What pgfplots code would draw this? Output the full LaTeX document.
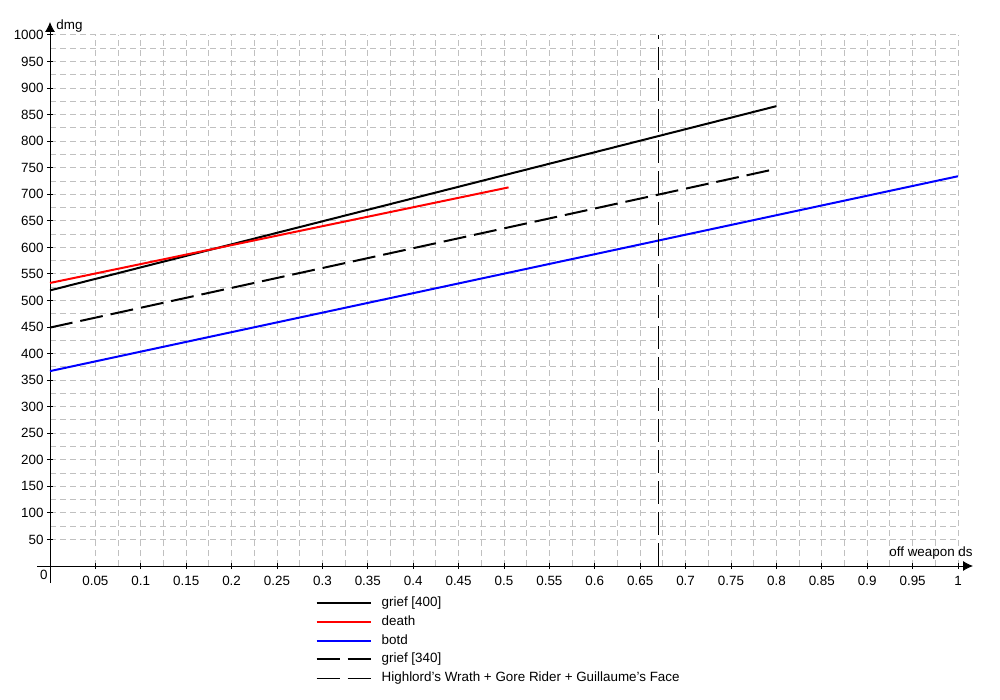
\documentclass[border=0pt]{standalone}
\usepackage{fontspec}
\setmainfont{Liberation Sans}
\usepackage{pgfplots}
\pgfplotsset{compat=1.18}
\usetikzlibrary{arrows.meta}

\definecolor{gridgray}{RGB}{192,192,192}
\definecolor{pureRed}{RGB}{255,0,0}
\definecolor{pureBlue}{RGB}{0,0,255}

\begin{document}
\begin{tikzpicture}
\useasboundingbox (-25pt,-67pt) rectangle (475pt,283pt);
\begin{axis}[
  at={(0,0)}, anchor=south west,
  width=454pt, height=265.5pt, scale only axis,
  xmin=0, xmax=1, ymin=0, ymax=1000,
  axis lines=middle,
  x axis line style={-{Latex[length=5pt,width=5pt]}, shorten >=-7.5pt, shorten <=-6.5pt},
  y axis line style={-{Latex[length=5pt,width=5pt]}, shorten >=-6.5pt, shorten <=-8.5pt},
  font=\fontsize{6.7pt}{8pt}\selectfont,
  /pgf/number format/assume math mode=true,
  /pgf/number format/1000 sep={},
  xtick={0.05,0.1,...,1.001},
  ytick={50,100,...,1000},
  xticklabels={0.05,0.1,0.15,0.2,0.25,0.3,0.35,0.4,0.45,0.5,0.55,0.6,0.65,0.7,0.75,0.8,0.85,0.9,0.95,1},
  minor x tick num=1, minor y tick num=1,
  major tick length=3pt, minor tick length=0pt, tick align=center,
  tick style={black, line width=0.5pt},
  grid=both,
  major grid style={gridgray, line width=0.5pt, dash pattern=on 3pt off 2pt},
  minor grid style={gridgray, line width=0.5pt, dash pattern=on 3pt off 2pt},
  xticklabel style={anchor=north, inner sep=0pt, yshift=-3.5pt},
  yticklabel style={anchor=east, inner sep=0pt, xshift=-1.5pt},
  xlabel={off weapon ds},
  ylabel={dmg},
  xlabel style={at={(rel axis cs:1,0)}, anchor=south east, inner sep=0pt, xshift=7.5pt, yshift=3pt},
  ylabel style={at={(rel axis cs:0,1)}, anchor=west, inner sep=0pt, xshift=3pt, yshift=4.5pt, rotate=0},
  legend style={at={(0.29,-0.05)}, anchor=north west, draw=none, fill=none,
    font=\fontsize{6.7pt}{8pt}\selectfont, row sep=1pt, column sep=4pt, inner sep=1pt,
    nodes={inner sep=1pt}},
  legend cell align=left,
  legend image code/.code={\draw[#1] (0pt,0pt) -- (27pt,0pt);},
  clip=false,
]
\addplot[black, line width=1pt] coordinates {(0,519) (0.8,866)};
\addlegendentry{grief [400]}
\addplot[pureRed, line width=1pt] coordinates {(0,533) (0.505,713)};
\addlegendentry{death}
\addplot[pureBlue, line width=1pt] coordinates {(0,367) (1,734)};
\addlegendentry{botd}
\addplot[black, line width=1pt, dash pattern=on 11.5pt off 4pt] coordinates {(0,449) (0.8,748)};
\addlegendentry{grief [340]}
\addplot[black, line width=0.5pt, dash pattern=on 11.5pt off 4pt] coordinates {(0.67,0) (0.67,1000)};
\addlegendentry{Highlord's Wrath + Gore Rider + Guillaume's Face}
\node[anchor=north east, inner sep=0pt, font=\fontsize{6.7pt}{8pt}\selectfont] at (axis cs:0,0) [xshift=-1pt, yshift=-2pt] {0};
\end{axis}
\end{tikzpicture}
\end{document}
